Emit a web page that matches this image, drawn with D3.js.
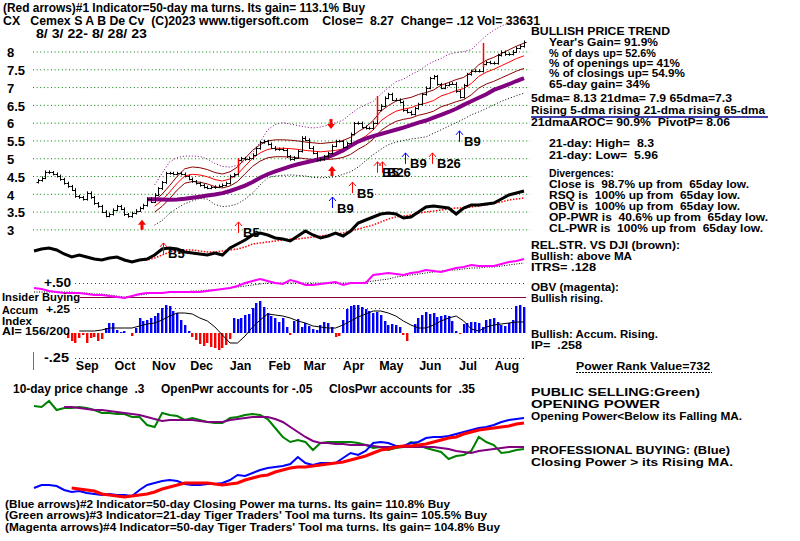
<!DOCTYPE html>
<html><head><meta charset="utf-8">
<script src="https://cdnjs.cloudflare.com/ajax/libs/d3/7.8.5/d3.min.js"></script>
<style>
body{margin:0;background:#fff}
svg{display:block}
text{font-family:"Liberation Sans",Arial,sans-serif;font-weight:bold;white-space:pre;fill:#000}
</style>
</head><body><svg id="c" width="800" height="541"></svg>
<script>
// ---------------- DATA ----------------
const startDate = new Date(2022, 7, 3), endDate = new Date(2023, 7, 28);
const MAIN_STEP = 3;   // calendar days between main samples
const SUB_STEP = 6;    // calendar days between indicator samples

const closes = [4.33,4.38,4.45,4.62,4.60,4.56,4.50,4.41,4.30,4.21,
 4.12,3.93,3.90,3.85,4.03,3.90,3.73,3.65,3.50,3.38,
 3.43,3.55,3.65,3.58,3.42,3.37,3.46,3.53,3.60,3.68,
 3.86,3.78,3.98,4.15,4.32,4.58,4.58,4.56,4.58,4.56,
 4.50,4.42,4.35,4.30,4.24,4.19,4.17,4.18,4.20,4.22,
 4.25,4.30,4.50,4.55,4.95,5.00,4.98,5.00,5.10,5.28,
 5.45,5.48,5.40,5.30,5.25,5.26,5.24,5.05,4.97,5.02,
 5.20,5.58,5.52,5.30,5.15,4.95,4.97,5.05,5.14,5.35,
 5.48,5.48,5.31,5.42,5.68,5.98,5.99,5.88,5.85,5.84,
 6.00,6.36,6.48,6.70,6.80,6.65,6.64,6.58,6.35,6.30,
 6.24,6.40,6.52,6.80,6.98,7.25,7.30,7.08,6.98,7.06,
 7.10,7.10,6.88,6.72,7.05,7.36,7.45,7.46,7.45,7.65,
 7.70,7.68,7.67,7.90,7.99,7.92,7.93,8.00,8.10,8.15,
 8.27];

const accumIndex = [null,null,null,null,null,null,null,null,null,-0.05,
 -0.08,-0.10,-0.05,-0.02,-0.10,-0.05,-0.04,-0.08,-0.06,0.05,
 0.10,0.10,0.03,0.01,0.02,0.00,-0.03,0.05,0.15,0.12,
 0.13,0.15,0.17,0.20,0.25,0.28,0.27,0.22,0.20,0.13,
 0.08,0.02,-0.04,-0.07,-0.11,-0.13,-0.10,-0.14,-0.15,-0.17,
 -0.15,-0.12,-0.06,0.15,0.14,0.15,0.18,0.19,0.25,0.30,
 0.32,0.26,0.20,0.17,0.15,0.11,0.15,0.06,-0.02,0.12,
 0.14,0.06,0.10,0.07,0.04,0.03,0.08,0.11,0.10,0.06,
 -0.04,-0.03,0.13,0.24,0.27,0.28,0.28,0.26,0.24,0.22,
 0.20,0.21,0.18,0.12,0.08,0.09,0.08,0.06,-0.02,-0.08,
 0.00,0.09,0.15,0.18,0.21,0.19,0.20,0.16,0.17,0.18,
 0.17,0.12,0.02,-0.01,0.09,0.10,0.11,0.11,0.10,0.06,
 0.13,0.14,0.15,0.11,0.08,0.07,0.10,0.13,0.27,0.28,
 0.26];

const N16 = Array(16).fill(null);
const ma21 = N16.concat([3.65,3.82,4.05,4.3,4.5,4.55,4.53,4.48,4.4,4.36,
 4.42,4.55,4.78,5.0,5.15,5.25,5.28,5.28,5.27,5.25,
 5.22,5.2,5.18,5.2,5.22,5.26,5.35,5.5,5.62,5.8,
 6.05,6.2,6.32,6.38,6.42,6.5,6.55,6.62,6.75,6.82,
 6.9,6.96,7.1,7.3,7.42,7.5,7.6,7.7,7.8,7.88]);
const ma65 = Array(15).fill(null).concat([3.85,3.85,3.84,3.83,3.84,3.86,3.89,3.92,3.95,3.98,
 4.02,4.08,4.15,4.23,4.33,4.45,4.55,4.63,4.7,4.77,
 4.83,4.88,4.93,4.98,5.03,5.12,5.22,5.35,5.47,5.55,
 5.62,5.68,5.74,5.8,5.86,5.93,6.0,6.06,6.14,6.22,
 6.3,6.39,6.5,6.6,6.7,6.8,6.92,7.0,7.08,7.17,7.25]);
const upperBand = N16.concat([4.25,4.58,4.9,5.02,5.06,5.06,5.05,4.98,4.85,4.77,
 4.75,4.8,4.92,5.15,5.45,5.8,5.95,6.0,5.96,5.92,
 5.88,5.85,5.88,5.93,6.0,6.07,6.25,6.4,6.5,6.6,
 6.8,6.98,7.15,7.22,7.35,7.45,7.6,7.72,7.8,7.92,
 7.97,8.0,8.05,8.25,8.45,8.6,8.72,8.8,8.88,8.95]);
const lowerBand = N16.concat([3.12,3.25,3.45,3.6,3.72,3.8,3.87,3.85,3.7,3.64,
 3.66,3.72,3.85,4.02,4.25,4.45,4.5,4.52,4.53,4.52,
 4.5,4.46,4.45,4.46,4.48,4.55,4.62,4.75,4.93,5.1,
 5.25,5.38,5.45,5.5,5.54,5.57,5.6,5.7,5.8,5.9,
 6.0,6.1,6.22,6.3,6.4,6.5,6.6,6.68,6.76,6.83]);
const ENVELOPE_PCT = 0.045;

const relStrength = [14,16,17,15,11,8,10,8,6,5,7,8,5,3,5,6,10,16,17,16,
 13,12,11,10,12,10,17,21,25,30,32,30,27,26,24,29,34,30,27,29,
 32,29,34,42,45,48,51,52,51,47,48,53,58,59,58,57,51,57,60,60,
 61,62,66,70,72,74];
const relStrengthMA = Array(12).fill(null).concat([4,4,5,5,7,10,13,14,15,15,
 14,13,13,14,15,16,18,21,22,23,24,25,26,26,27,28,29,30,31,32,
 34,36,38,40,43,46,48,49,50,52,53,54,55,56,57,57,58,59,60,62,
 63,65,66,67]);

const obv = [12,11,9,8,7,7,7,6,5,5,4,3,2,4,6,7,7,7,8,8,
 8,8,8,9,10,11,12,14,17,19,21,19,17,16,20,18,15,15,16,17,
 18,15,17,17,17,25,26,27,26,25,27,28,30,29,28,30,32,33,35,34,
 34,34,36,38,39,41];
const obvMA = [8,8,8,8,8,8,7,7,6,6,5,4,3,4,5,6,7,7,8,8,
 8,9,9,10,10,11,12,13,14,15,16,17,17,17,17,17,17,17,17,17,
 17,17,17,17,18,19,20,21,23,24,25,26,27,28,29,30,30,31,32,32,
 33,33,34,35,36,37];

const accumMA = Array(6).fill(null).concat([0.02,0.02,0.02,0.03,0.05,0.05,0.05,0.05,0.07,0.09,
 0.10,0.13,0.17,0.20,0.20,0.19,0.15,0.12,0.06,-0.02,
 -0.10,-0.10,-0.03,0.06,0.13,0.19,0.18,0.17,0.15,0.12,
 0.10,0.07,0.06,0.05,0.05,0.08,0.12,0.16,0.19,0.22,
 0.22,0.20,0.17,0.12,0.08,0.05,0.05,0.08,0.12,0.15,
 0.17,0.12,0.04,0.02,0.06,0.08,0.09,0.10,0.11,0.11]);

const openingPower = [94,93,99,90,92,92,93,92,90,87,87,86,86,83,83,75,73,87,85,84,
 80,82,80,78,77,77,82,83,85,86,85,81,72,63,58,60,58,50,57,58,
 58,58,58,57,55,52,53,50,52,53,58,55,52,50,48,41,44,45,49,63,
 58,55,47,48,50,51];
const openingMA = Array(4).fill(null).concat([93,93,92,91,90,90,89,88,87,86,
 85,83,81,79,80,80,80,80,79,78,78,78,80,81,82,83,83,83,81,78,
 73,68,63,59,57,57,56,56,55,55,55,54,53,53,53,53,53,53,53,53,
 52,51,49,48,47,49,50,51,52,53,53,53]);
const closingPower = [12,15,15,14,10,8,9,7,6,5,6,5,5,4,10,15,17,19,20,19,
 16,15,15,16,16,17,20,25,24,27,30,32,33,34,36,43,37,35,37,37,
 37,42,47,45,49,57,58,57,54,54,57,58,62,63,63,64,66,68,70,72,
 73,75,78,80,81,82];
const closingMA = Array(5).fill(null).concat([12,11,10,9,6,5,4,3,4,5,
 6,8,11,13,15,17,17,17,17,16,15,16,17,20,22,24,25,28,30,32,
 33,33,34,35,36,37,38,40,42,44,47,50,51,53,54,54,55,56,58,60,
 62,63,66,68,70,71,72,73,74,76,77]);

const priceTicks = [3,3.5,4,4.5,5,5.5,6,6.5,7,7.5,8];
const monthLabels = ["Sep","Oct","Nov","Dec","Jan","Feb","Mar","Apr","May","Jun","Jul","Aug"];

// signal arrows: date, price at arrow tip
const signals = [
 {date:"2022-10-28", at:3.27, color:"#ff0000", thick:true, label:""},
 {date:"2022-11-14", at:2.62, color:"#ff0000", label:"B5"},
 {date:"2023-01-12", at:3.21, color:"#ff0000", label:"B5"},
 {date:"2023-03-27", at:5.82, color:"#ff0000", thick:true, down:true, label:""},
 {date:"2023-03-28", at:4.78, color:"#ff0000", thick:true, label:""},
 {date:"2023-03-28", at:3.91, color:"#0000ff", label:"B9"},
 {date:"2023-04-13", at:4.33, color:"#ff0000", label:"B5"},
 {date:"2023-05-03", at:4.90, color:"#ff0000", label:"B5"},
 {date:"2023-05-07", at:4.90, color:"#ff0000", label:"B26"},
 {date:"2023-05-25", at:5.15, color:"#0000ff", label:"B9"},
 {date:"2023-06-16", at:5.15, color:"#ff0000", label:"B26"},
 {date:"2023-07-07", at:5.77, color:"#0000ff", label:"B9"}
];
const wideBars = [
 {date:"2023-01-12", lo:4.58, hi:5.00},
 {date:"2023-05-03", lo:6.07, hi:6.75},
 {date:"2023-07-26", lo:7.56, hi:8.24}
];

// ---------------- DRAW ----------------
const svg = d3.select("#c");
svg.append("rect").attr("width",800).attr("height",541).attr("fill","#fff");

const x = d3.scaleTime().domain([startDate,endDate]).range([34,524]);
const dMain = i => d3.timeDay.offset(startDate, MAIN_STEP*i);
const dSub = j => d3.timeDay.offset(startDate, SUB_STEP*j);
const parse = d3.timeParse("%Y-%m-%d");
const yP = d3.scaleLinear().domain([3,8]).range([229.4,51.5]);
const yRS = d3.scaleLinear().domain([0,80]).range([265,185]);
const yOBV = d3.scaleLinear().domain([0,40]).range([300,260]);
const yAI = d3.scaleLinear().domain([-0.25,0.5]).range([358,283]);
const yPW = d3.scaleLinear().domain([0,100]).range([500,400]);

const subLine = ys => d3.line().defined(d => d != null).x((d,j) => x(dSub(j))).y(d => ys(d));

// price grid
const grid = svg.append("g").attr("transform","translate(33,0)")
  .call(d3.axisLeft(yP).tickValues(priceTicks).tickSize(-497).tickFormat(""));
grid.select(".domain").remove();
grid.selectAll("line").attr("stroke","#008000").attr("stroke-dasharray","1,2.6");

// price axis labels
const yAx = svg.append("g").call(d3.axisLeft(yP).tickValues(priceTicks).tickSize(0)
  .tickFormat(d => Number.isInteger(d) ? String(d) : d.toFixed(1)));
yAx.select(".domain").remove();
yAx.selectAll("text").attr("x",7).attr("text-anchor","start").attr("font-size",13).attr("dy","0.4em");

// bands and moving averages
svg.append("path").attr("d",subLine(yP)(upperBand)).attr("fill","none").attr("stroke","#800080").attr("stroke-dasharray","1,2");
svg.append("path").attr("d",subLine(yP)(lowerBand)).attr("fill","none").attr("stroke","#000").attr("stroke-dasharray","1,2");
svg.append("path").attr("d",subLine(yP)(ma21.map(v => v==null?null:v*(1+ENVELOPE_PCT)))).attr("fill","none").attr("stroke","#8b0000");
svg.append("path").attr("d",subLine(yP)(ma21.map(v => v==null?null:v*(1-ENVELOPE_PCT)))).attr("fill","none").attr("stroke","#8b0000");
svg.append("path").attr("d",subLine(yP)(ma21)).attr("fill","none").attr("stroke","#ff0000");
svg.append("path").attr("d",subLine(yP)(ma65)).attr("fill","none").attr("stroke","#800080").attr("stroke-width",4);

// price bars
const bars = svg.append("g").attr("stroke","#000").attr("stroke-width",1)
  .selectAll("g").data(closes.slice(1).map((c,k) => ({c, p: closes[k], i: k+1}))).join("g");
bars.each(function(d){
  const g = d3.select(this), xx = Math.round(x(dMain(d.i))) + 0.5;
  g.append("line").attr("x1",xx).attr("x2",xx)
    .attr("y1",yP(Math.max(d.c,d.p)+0.04)).attr("y2",yP(Math.min(d.c,d.p)-0.04));
  g.append("line").attr("x1",xx-2).attr("x2",xx).attr("y1",Math.round(yP(d.p))+0.5).attr("y2",Math.round(yP(d.p))+0.5);
  g.append("line").attr("x1",xx).attr("x2",xx+2).attr("y1",Math.round(yP(d.c))+0.5).attr("y2",Math.round(yP(d.c))+0.5);
});
svg.append("g").selectAll("line").data(wideBars).join("line")
  .attr("x1",d => Math.round(x(parse(d.date)))+0.5).attr("x2",d => Math.round(x(parse(d.date)))+0.5)
  .attr("y1",d => yP(d.hi)).attr("y2",d => yP(d.lo)).attr("stroke","#ff0000").attr("stroke-width",1.5);

// relative strength
svg.append("path").attr("d",subLine(yRS)(relStrengthMA)).attr("fill","none").attr("stroke","#ff0000").attr("stroke-width",1.5).attr("stroke-dasharray","1.5,1.5");
svg.append("path").attr("d",subLine(yRS)(relStrength)).attr("fill","none").attr("stroke","#000").attr("stroke-width",3);

// arrows
const ga = svg.append("g");
signals.forEach(s => {
  const xx = Math.round(x(parse(s.date))), ty = yP(s.at), k = s.down ? -1 : 1;
  if (s.thick) {
    ga.append("rect").attr("x",xx-1.5).attr("y",Math.min(ty+k*4,ty+k*10)).attr("width",3).attr("height",6).attr("fill",s.color);
    ga.append("path").attr("d",`M${xx-4},${ty+k*5}L${xx},${ty}L${xx+4},${ty+k*5}Z`).attr("fill",s.color);
  } else {
    ga.append("line").attr("x1",xx+0.5).attr("x2",xx+0.5).attr("y1",ty).attr("y2",ty+11).attr("stroke",s.color);
    ga.append("path").attr("d",`M${xx-3},${ty+4}L${xx+0.5},${ty}L${xx+4},${ty+4}`).attr("fill","none").attr("stroke",s.color);
  }
  if (s.label) ga.append("text").attr("x",xx+5).attr("y",ty+15.5).attr("font-size",13).text(s.label);
});

// AI / OBV reference lines
[0.5,0.25,-0.25].forEach(v => svg.append("line").attr("x1",75).attr("x2",526)
  .attr("y1",Math.round(yAI(v))+0.5).attr("y2",Math.round(yAI(v))+0.5)
  .attr("stroke","#800080").attr("stroke-dasharray","1,3"));
svg.append("line").attr("x1",80).attr("x2",526).attr("y1",297.5).attr("y2",297.5).attr("stroke","#800040");

// OBV
svg.append("path").attr("d",subLine(yOBV)(obvMA)).attr("fill","none").attr("stroke","#000").attr("stroke-dasharray","1,1.5");
svg.append("path").attr("d",subLine(yOBV)(obv)).attr("fill","none").attr("stroke","#ff00ff").attr("stroke-width",2);

// Accumulation index histogram
svg.append("g").selectAll("rect").data(accumIndex.map((v,i) => ({v,i})).filter(d => d.v != null)).join("rect")
  .attr("x",d => Math.round(x(dMain(d.i)))-1).attr("width",2.4)
  .attr("y",d => Math.min(yAI(0),yAI(d.v))).attr("height",d => Math.abs(yAI(d.v)-yAI(0)))
  .attr("fill",d => d.v >= 0 ? "#0000ff" : "#ff0000");
svg.append("path").attr("d",subLine(yAI)(accumMA)).attr("fill","none").attr("stroke","#000");
svg.append("line").attr("x1",33.5).attr("x2",33.5).attr("y1",352).attr("y2",370).attr("stroke","#808000");

// month axis
const months = d3.timeMonth.range(new Date(2022,8,1), new Date(2023,8,1)).map(d => d3.timeDay.offset(d,13));
const xAx = svg.append("g").attr("transform","translate(0,358)")
  .call(d3.axisBottom(x).tickValues(months).tickSize(0).tickFormat((d,i) => monthLabels[i]));
xAx.select(".domain").remove();
xAx.selectAll("text").attr("font-size",12.5);

// power panel
svg.append("path").attr("d",subLine(yPW)(openingPower)).attr("fill","none").attr("stroke","#008000").attr("stroke-width",2);
svg.append("path").attr("d",subLine(yPW)(openingMA)).attr("fill","none").attr("stroke","#800080").attr("stroke-width",2);
svg.append("path").attr("d",subLine(yPW)(closingPower)).attr("fill","none").attr("stroke","#0000ff").attr("stroke-width",2);
svg.append("path").attr("d",subLine(yPW)(closingMA)).attr("fill","none").attr("stroke","#ff0000").attr("stroke-width",3);

// ---------------- TEXT ----------------
const texts = [
 [3,7,"(Red arrows)#1 Indicator=50-day ma turns. Its gain= 113.1% Buy",365,12.5],
 [3,20,"CX   Cemex S A B De Cv  (C)2023 www.tigersoft.com    Close=  8.27  Change= .12 Vol= 33631",540,12.5],
 [36,33,"8/ 3/ 22- 8/ 28/ 23",147,12.5],
 [531,31,"BULLISH PRICE TREND",670,11.5],
 [549,42.5,"Year's Gain= 91.9%",658,10.3],
 [549,53,"% of days up= 52.6%",656,10.3],
 [549,63,"% of openings up= 41%",680,10.3],
 [549,73,"% of closings up= 54.9%",685,10.3],
 [549,84,"65-day gain= 34%",650,10.3],
 [531,98.5,"5dma= 8.13 21dma= 7.9 65dma=7.3",732,10.8],
 [531,110,"Rising 5-dma rising 21-dma rising 65-dma",765,10.5],
 [531,122.5,"21dmaAROC= 90.9%  PivotP= 8.06",730,11],
 [549,143,"21-day: High=  8.3",654,11.5],
 [549,155,"21-day: Low=  5.96",658,11.5],
 [549,173,"Divergences:",614,10.3],
 [549,184,"Close is  98.7% up from  65day low.",749,10.3],
 [549,195,"RSQ is  100% up from  65day low.",740,10.3],
 [549,206,"OBV is  100% up from  65day low.",740,10.3],
 [549,217,"OP-PWR is  40.6% up from  65day low.",768,10.3],
 [549,228,"CL-PWR is  100% up from  65day low.",763,10.3],
 [531,245,"REL.STR. VS DJI (brown):",680,11],
 [531,256,"Bullish: above MA",632,11],
 [531,267,"ITRS= .128",596,11],
 [531,287,"OBV (magenta):",619,11],
 [531,298,"Bullish rising.",603,11],
 [531,334,"Bullish: Accum. Rising.",658,11],
 [531,345,"IP=  .258",582,11],
 [576,366,"Power Rank Value=732",710,11.5],
 [531,392,"PUBLIC SELLING:Green)",700,11.5],
 [531,404,"OPENING POWER",660,11.5],
 [531,416,"Opening Power<Below its Falling MA.",742,11.5],
 [531,450,"PROFESSIONAL BUYING: (Blue)",730,11.5],
 [531,462,"Closing Power > its Rising MA.",733,11.5],
 [44,283,"+.50",71,12],
 [2,297,"Insider Buying",80,11.5],
 [2,310,"Accum",38,11],
 [46,309,"+.25",70,11.5],
 [2,321,"Index",32,11],
 [2,331.5,"AI= 156/200",70,11],
 [44,358,"-.25",69,12],
 [13,388,"10-day price change  .3     OpenPwr accounts for -.05     ClosPwr accounts for  .35",475,12.5],
 [5,504,"(Blue arrows)#2 Indicator=50-day Closing Power ma turns. Its gain= 110.8% Buy",450,11.5],
 [5,515,"(Green arrows)#3 Indicator=21-day Tiger Traders' Tool ma turns. Its gain= 105.5% Buy",487,11.5],
 [5,527,"(Magenta arrows)#4 Indicator=50-day Tiger Traders' Tool ma turns. Its gain= 104.8% Buy",500,11.5]
];
svg.append("g").selectAll("text").data(texts).join("text")
  .attr("x",d => d[0]).attr("y",d => d[1] + d[4]*0.36).attr("font-size",d => d[4])
  .attr("textLength",d => d[3]-d[0]).attr("lengthAdjust","spacingAndGlyphs")
  .text(d => d[2]);

svg.append("line").attr("x1",531).attr("x2",768).attr("y1",117).attr("y2",117).attr("stroke","#00008b").attr("stroke-width",1.5);
svg.append("line").attr("x1",576).attr("x2",712).attr("y1",372.5).attr("y2",372.5).attr("stroke","#000").attr("stroke-dasharray","2,1");
</script>
</body></html>
